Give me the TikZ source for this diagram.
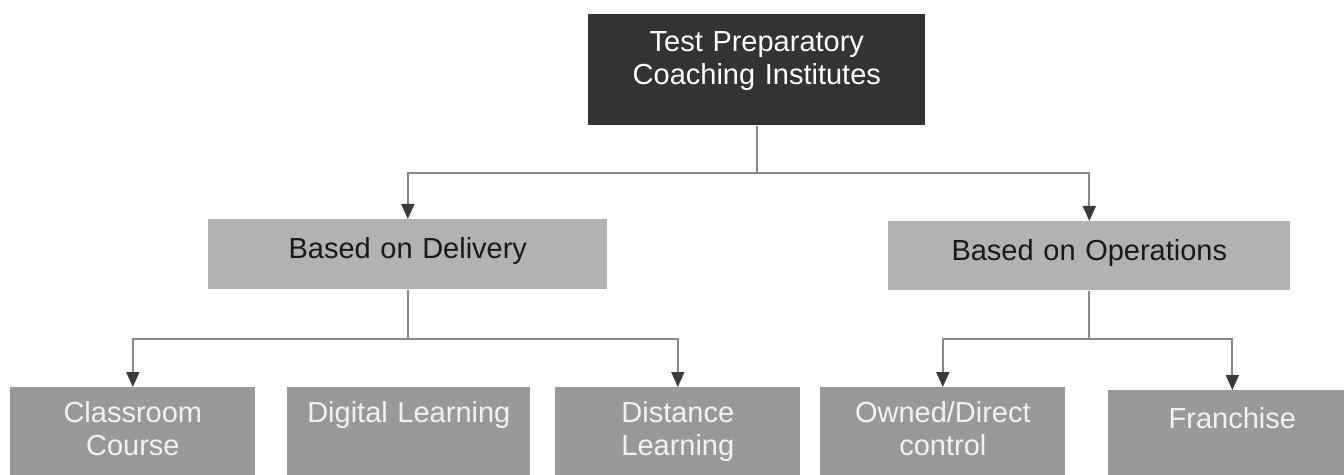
\documentclass[tikz,border=0pt]{standalone}
\usepackage{fontspec}
\setmainfont{Liberation Sans}
\usetikzlibrary{arrows.meta}
\definecolor{topfill}{HTML}{333333}
\definecolor{midfill}{HTML}{B2B2B2}
\definecolor{lowfill}{HTML}{999999}
\definecolor{linegray}{HTML}{888888}
\definecolor{tipgray}{HTML}{3A3A3A}
\tikzset{
    tpbox/.style={fill=#1, inner sep=0pt, anchor=north west, align=center,
        font=\fontsize{16.5}{19}\selectfont},
    lowbox/.style={tpbox=lowfill, text=white!95!black, text width=4.9cm,
        text height=0.7cm, text depth=1.3cm},
    conn/.style={draw=linegray, line width=1pt,
        -{Triangle[width=0.26cm, length=0.3cm, color=tipgray]}},
}

\begin{document}
\begin{tikzpicture}[x=0.02cm,y=-0.02cm]
    \clip (0,0) rectangle (1344,475);
    % top level
    \node[tpbox=topfill, text=white, text width=6.74cm,
        text height=0.74cm, text depth=1.48cm] (inst) at (588,14)
        {Test Preparatory\\Coaching Institutes};
    % second level
    \node[tpbox=midfill, text=black!90, text width=7.98cm,
        text height=0.78cm, text depth=0.62cm] (deliv) at (208,219)
        {Based on Delivery};
    \node[tpbox=midfill, text=black!90, text width=8.04cm,
        text height=0.78cm, text depth=0.6cm] (oper) at (888,221)
        {Based on Operations};
    % third level
    \node[lowbox] (class) at (10,387) {Classroom\\Course};
    \node[lowbox, text width=4.86cm] (digital) at (287,387) {Digital Learning};
    \node[lowbox] (dist) at (555,387) {Distance\\Learning};
    \node[lowbox] (owned) at (820,387) {Owned/Direct\\control};
    \node[lowbox, text width=4.96cm, text height=0.76cm] (fran) at (1108,390) {Franchise};
    % connectors
    \draw[conn] (inst.south) -- ++(0,47) -| (deliv.north);
    \draw[conn] (inst.south) -- ++(0,47) -| (oper.north);
    \foreach \b in {class,dist}
        \draw[conn] (deliv.south) -- ++(0,49) -| (\b.north);
    \foreach \b in {owned,fran}
        \draw[conn] (oper.south) -- ++(0,48) -| (\b.north);
\end{tikzpicture}
\end{document}
